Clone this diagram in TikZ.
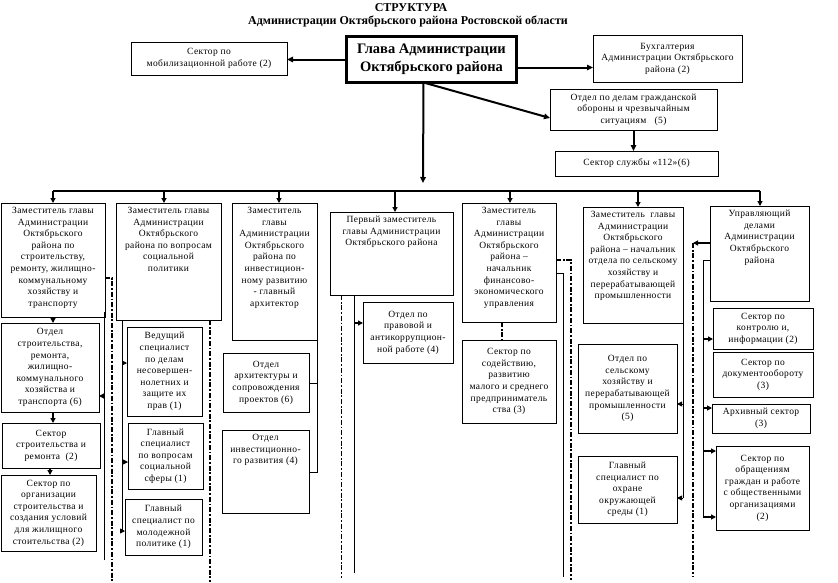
\documentclass[tikz,border=0pt]{standalone}
\usepackage{fontspec}
\setmainfont{Liberation Serif}
\usetikzlibrary{arrows.meta,calc}
\newcommand\mkbt[6]{\node[box, minimum width={#4-#2}, minimum height={#5-#3}, anchor=north west] (#1) at (#2,#3) {};\node[txt, anchor=north] (#1t) at ([yshift=-4pt]#1.north) {#6};}
\newcommand\mkbc[6]{\node[box, minimum width={#4-#2}, minimum height={#5-#3}, anchor=north west] (#1) at (#2,#3) {};\node[txt] (#1t) at (#1.center) {#6};}
\begin{document}
\begin{tikzpicture}[x=1pt,y=-1pt,
  box/.style={draw, line width=0.8pt, inner sep=0pt, outer sep=0pt},
  txt/.style={align=center, inner sep=0pt, font=\fontsize{9.5}{11.6}\selectfont\addfontfeature{LetterSpace=4}},
  barr/.style={-{Triangle[length=6pt,width=5.5pt]}, line width=2pt},
  marr/.style={-{Triangle[length=5pt,width=5pt]}, line width=1.4pt},
  sarr/.style={-{Triangle[length=5pt,width=5pt]}, line width=0.8pt},
  busl/.style={line width=1.2pt},
  thinl/.style={line width=0.8pt},
  dd/.style={line width=2pt, dash pattern=on 5pt off 1.8pt on 1.8pt off 1.8pt},
  ddthin/.style={line width=0.9pt, dash pattern=on 5pt off 1.8pt on 1.8pt off 1.8pt}]
\useasboundingbox (0,0) rectangle (838,582);
\fill[white] (0,0) rectangle (838,582);

% title
\node[font=\bfseries\fontsize{12}{14}\selectfont] (t1) at (411,8) {СТРУКТУРА};
\node[font=\bfseries\fontsize{12}{14}\selectfont] (t2) at (408,21) {Администрации Октябрьского района Ростовской области};

% head
\node[draw, line width=3pt, inner sep=0pt, outer sep=0pt, minimum width=170, minimum height=46, anchor=north west, align=center, font=\bfseries\fontsize{14.5}{18}\selectfont] (glava) at (346.5,36.5) {Глава Администрации\\Октябрьского района};

\mkbc{mob}{131}{42}{287}{75}{Сектор  по\\ мобилизационной работе (2)}
\mkbc{bukh}{593}{35}{742}{82}{Бухгалтерия\\ Администрации Октябрьского\\ района  (2)}
\mkbc{go}{550}{89}{717}{130}{Отдел по делам гражданской\\ обороны и чрезвычайным\\ ситуациям \ \ (5)}
\mkbc{s112}{555}{151}{718}{176}{Сектор службы «112»(6)}

\draw[barr] (glava.west) -- (glava.west -| mob.east);
\draw[barr] ([yshift=-8pt]glava.east) -- ([yshift=-8pt]glava.east -| bukh.west);
\draw[barr] ([xshift=-8pt]glava.south) -- ([yshift=-8.5pt]go.west);
\draw[barr] (go.south) -- (go.south |- s112.north);

% level 1
\mkbt{zam1}{1}{203}{105}{317}{Заместитель главы\\ Администрации\\ Октябрьского\\ района по\\ строительству,\\ ремонту, жилищно-\\ коммунальному\\ хозяйству и\\ транспорту}
\mkbt{zam2}{116}{203}{221}{320}{Заместитель главы\\ Администрации\\ Октябрьского\\ района по вопросам\\ социальной\\ политики}
\mkbt{zam3}{232}{203}{317}{340}{Заместитель\\ главы\\ Администрации\\ Октябрьского\\ района по\\ инвестицион-\\ ному развитию\\ - главный\\ архитектор}
\mkbt{perv}{330}{212}{453}{295}{Первый заместитель\\ главы Администрации\\ Октябрьского района}
\mkbt{zam5}{462}{203}{556}{322}{Заместитель\\ главы\\ Администрации\\ Октябрьского\\ района –\\ начальник\\ финансово-\\ экономического\\ управления}
\mkbt{zam6}{583}{207}{683}{323}{Заместитель \ главы\\ Администрации\\ Октябрьского\\ района – начальник\\ отдела по сельскому\\ хозяйству и\\ перерабатывающей\\ промышленности}
\mkbt{upr}{710}{206}{809}{301}{Управляющий\\ делами\\ Администрации\\ Октябрьского\\ района}

% bus
\coordinate (bm) at (423,191);
\coordinate (b1) at (53,191);
\coordinate (b2) at (164,191);
\coordinate (b3) at (279,191);
\coordinate (b4) at (395,191);
\coordinate (b5) at (510,191);
\coordinate (b6) at (638,191);
\coordinate (b7) at (760,191);
\draw[barr] ([xshift=-8pt]glava.south) -- ([yshift=8pt]bm);
\draw[busl] (b1) -- (b7);
\foreach \i/\n in {1/zam1,2/zam2,3/zam3,4/perv,5/zam5,6/zam6,7/upr}
  \draw[marr] (b\i) -- (b\i |- \n.north);

% column 1
\mkbc{otdS}{1}{323}{99}{412}{Отдел\\ строительства,\\ ремонта,\\ жилищно-\\ коммунального\\ хозяйства и\\ транспорта (6)}
\mkbc{sekSR}{2}{423}{100}{468}{Сектор\\ строительства и\\ ремонта \ (2)}
\mkbc{sekOrg}{1}{475}{96}{551}{Сектор по\\ организации\\ строительства и\\ создания условий\\ для жилищного\\ стоительства (2)}
\draw[marr] (zam1.south -| 53,0) -- (otdS.north -| 53,0);
\draw[marr] (otdS.south -| 53,0) -- (sekSR.north -| 53,0);
\draw[marr] (sekSR.south -| 50,0) -- (sekOrg.north -| 50,0);
\coordinate (c1a) at (104,312);
\coordinate (c1b) at (104,560);
\draw[thinl] (c1a) -- (c1b);
\draw[marr] (104,396) -- (otdS.east |- 0,396);
\coordinate (d1a) at (112,278);
\coordinate (d1b) at (112,582);
\draw[dd] (zam1.east |- d1a) -- (d1a) -- (d1b);

% column 2
\mkbc{ved}{127}{327}{202}{416}{Ведущий\\ специалист\\ по делам\\ несовершен-\\ нолетних и\\ защите их\\ прав (1)}
\mkbc{glS}{128}{423}{203}{489}{Главный\\ специалист\\ по вопросам\\ социальной\\ сферы (1)}
\mkbc{glM}{125}{499}{202}{555}{Главный\\ специалист по\\ молодежной\\ политике (1)}
\coordinate (c2a) at (122.5,320);
\coordinate (c2b) at (122.5,531);
\draw[thinl] (c2a) -- (c2b);
\draw[sarr] (122.5,363) -- (ved.west |- 0,363);
\draw[sarr] (122.5,462) -- (glS.west |- 0,462);
\draw[sarr] (c2b) -- (glM.west |- c2b);
\coordinate (d2a) at (209.5,320);
\coordinate (d2b) at (209.5,582);
\draw[dd] (d2a) -- (d2b);

% column 3
\mkbc{arch}{223}{353}{309}{412}{Отдел\\ архитектуры и\\ сопровождения\\ проектов (6)}
\mkbt{inv}{222}{430}{309}{513}{Отдел\\ инвестиционно-\\ го развития (4)}
\coordinate (c3b) at (317,472);
\draw[thinl] (zam3.south east) -- (c3b) -- (c3b -| inv.east);
\draw[thinl] (317,383) -- (arch.east |- 0,383);

% column 4
\mkbc{prav}{363}{302}{453}{363}{Отдел по\\ правовой и\\ антикоррупцион-\\ ной работе (4)}
\coordinate (d4a) at (341,295);
\coordinate (d4b) at (341,578);
\draw[ddthin] (d4a) -- (d4b);
\coordinate (c4a) at (354,295);
\coordinate (c4b) at (354,573);
\draw[thinl] (c4a) -- (c4b);
\draw[marr] (354,323) -- (prav.west |- 0,323);

% column 5
\mkbc{sod}{462}{340}{556}{423}{Сектор по\\ содействию,\\ развитию\\ малого и среднего\\ предприниматель\\ ства (3)}
\draw[dd] (zam5.south -| 502,0) -- (sod.north -| 502,0);
\coordinate (d5a) at (571,260);
\coordinate (d5b) at (571,580);
\draw[dd] (zam5.east |- d5a) -- (d5a) -- (d5b);
\coordinate (c5a) at (563,273);
\coordinate (c5b) at (563,577);
\draw[thinl] (zam5.east |- c5a) -- (c5a) -- (c5b);

% column 6
\mkbc{otdSel}{578}{344}{677}{433}{Отдел по\\ сельскому\\ хозяйству и\\ перерабатывающей\\ промышленности\\ (5)}
\mkbc{glOkh}{578}{456}{677}{523}{Главный\\ специалист по\\ охране\\ окружающей\\ среды (1)}
\coordinate (c6b) at (683,498);
\draw[thinl] (zam6.south east) -- (c6b);
\draw[sarr] (683,404) -- (otdSel.east |- 0,404);
\draw[sarr] (c6b) -- (glOkh.east |- c6b);

% column 7
\mkbc{kontr}{713}{308}{813}{349}{Сектор по\\ контролю и,\\ информации (2)}
\mkbc{dok}{713}{352}{813}{397}{Сектор по\\ документообороту\\ (3)}
\mkbc{arkh}{712}{404}{810}{433}{Архивный сектор\\ (3)}
\mkbc{obr}{716}{446}{809}{530}{Сектор по\\ обращениям\\ граждан и работе\\ с общественными\\ организациями\\ (2)}
\coordinate (d7a) at (693,243);
\coordinate (d7b) at (693,577);
\draw[marr] (upr.west |- d7a) -- (d7a);
\draw[dd] (d7a) -- (d7b);
\coordinate (c7a) at (703,260);
\coordinate (c7b) at (703,517);
\draw[thinl] (upr.west |- c7a) -- (c7a) -- (c7b);
\draw[marr] (703,339) -- (kontr.west |- 0,339);
\draw[marr] (703,408) -- (arkh.west |- 0,408);
\draw[marr] (703,451) -- (obr.west |- 0,451);
\draw[marr] (c7b) -- (obr.west |- c7b);
\end{tikzpicture}
\end{document}
